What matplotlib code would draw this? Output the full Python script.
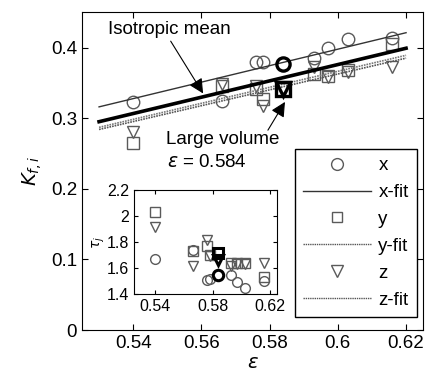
import matplotlib
matplotlib.use("Agg")
import matplotlib.pyplot as plt
from matplotlib.lines import Line2D

plt.rcParams['font.family'] = ['Liberation Sans', 'DejaVu Sans']
plt.rcParams['mathtext.fontset'] = 'dejavusans'

# porosity of the samples
eps = [0.540, 0.566, 0.576, 0.578, 0.593, 0.597, 0.603, 0.616]
# conductivity factors per direction
k_x = [0.323, 0.325, 0.380, 0.380, 0.385, 0.399, 0.412, 0.414]
k_y = [0.265, 0.345, 0.341, 0.327, 0.362, 0.360, 0.368, 0.405]
k_z = [0.280, 0.349, 0.345, 0.317, 0.373, 0.358, 0.366, 0.373]
# tortuosity per direction
tau_x = [1.67, 1.74, 1.51, 1.52, 1.55, 1.49, 1.45, 1.50]
tau_y = [2.03, 1.73, 1.77, 1.70, 1.64, 1.64, 1.64, 1.53]
tau_z = [1.92, 1.62, 1.82, 1.69, 1.62, 1.63, 1.63, 1.64]

# large volume sample
eps_large = 0.584
k_large = [0.376, 0.342, 0.341]
tau_large = [1.55, 1.715, 1.66]

# fit lines (end points)
fit_eps = [0.53, 0.62]
fit_x = [0.316, 0.421]
fit_y = [0.287, 0.389]
fit_z = [0.284, 0.385]
fit_iso = [0.295, 0.399]

grey = '#5a5a5a'
fs = 13.5

fig = plt.figure(figsize=(4.28, 3.82), dpi=100)
ax = fig.add_axes([0.1916, 0.136, 0.797, 0.832])

mk = dict(linestyle='none', markerfacecolor='none', markeredgecolor=grey,
          markersize=9, markeredgewidth=1.0)
ax.plot(eps, k_x, marker='o', **mk)
ax.plot(eps, k_y, marker='s', **mk)
ax.plot(eps, k_z, marker='v', **mk)

ax.plot(fit_eps, fit_x, color='#333333', lw=1.0)
ax.plot(fit_eps, fit_y, color='#777777', lw=1.2, linestyle=(0, (1, 0.6)))
ax.plot(fit_eps, fit_z, color='#555555', lw=1.2, linestyle=(0, (1, 0.6)))
ax.plot(fit_eps, fit_iso, color='black', lw=2.6)

big = dict(linestyle='none', markerfacecolor='none', markeredgecolor='black',
           markersize=9.5, markeredgewidth=2.4)
ax.plot([eps_large], [k_large[0]], marker='o', **big)
ax.plot([eps_large], [k_large[1]], marker='s', **big)
ax.plot([eps_large], [k_large[2]], marker='v', **big)

ax.annotate('Isotropic mean', xy=(0.5605, 0.335), xytext=(0.5325, 0.425),
            fontsize=fs, ha='left', va='center',
            arrowprops=dict(arrowstyle='-|>', color='black', lw=0.8,
                            mutation_scale=22, shrinkA=0, shrinkB=0,
                            relpos=(0.5, 0.0)))
ax.annotate('', xy=(0.5845, 0.323), xytext=(0.5795, 0.283),
            arrowprops=dict(arrowstyle='-|>', color='black', lw=0.8,
                            mutation_scale=22, shrinkA=0, shrinkB=0))
ax.text(0.5495, 0.270, 'Large volume', fontsize=fs, ha='left', va='center')
ax.text(0.5500, 0.237, r'$\varepsilon$ = 0.584', fontsize=fs, ha='left', va='center')

ax.set_xlim(0.525, 0.625)
ax.set_ylim(0, 0.45)
ax.set_xticks([0.54, 0.56, 0.58, 0.6, 0.62])
ax.set_xticklabels(['0.54', '0.56', '0.58', '0.6', '0.62'])
ax.set_yticks([0, 0.1, 0.2, 0.3, 0.4])
ax.set_yticklabels(['0', '0.1', '0.2', '0.3', '0.4'])
ax.tick_params(direction='in', top=True, right=True, labelsize=fs, length=4)
ax.set_xlabel(r'$\varepsilon$', fontsize=14, labelpad=2)
ax.set_ylabel(r'$K_{f,i}$', fontsize=14, labelpad=5)

handles = [
    Line2D([], [], marker='o', linestyle='none', markerfacecolor='none',
           markeredgecolor=grey, markersize=8.5),
    Line2D([], [], color='#333333', lw=1.0),
    Line2D([], [], marker='s', linestyle='none', markerfacecolor='none',
           markeredgecolor=grey, markersize=7.5),
    Line2D([], [], color='#555555', lw=1.0, linestyle=(0, (1, 0.6))),
    Line2D([], [], marker='v', linestyle='none', markerfacecolor='none',
           markeredgecolor=grey, markersize=8.5),
    Line2D([], [], color='#555555', lw=1.0, linestyle=(0, (1, 0.6))),
]
leg = ax.legend(handles, ['x', 'x-fit', 'y', 'y-fit', 'z', 'z-fit'],
                loc='lower right', bbox_to_anchor=(0.982, 0.041),
                borderaxespad=0, fontsize=fs, handlelength=3.6,
                handletextpad=0.4, labelspacing=0.52, borderpad=0.45,
                fancybox=False, framealpha=1, edgecolor='black')
leg.get_frame().set_linewidth(1.0)

# inset: tortuosity
ins = fig.add_axes([0.313, 0.230, 0.334, 0.272])
mk2 = dict(linestyle='none', markerfacecolor='none', markeredgecolor=grey,
           markersize=7, markeredgewidth=1.0)
ins.plot(eps, tau_x, marker='o', **mk2)
ins.plot(eps, tau_y, marker='s', **mk2)
ins.plot(eps, tau_z, marker='v', **mk2)
big2 = dict(linestyle='none', markerfacecolor='none', markeredgecolor='black',
            markersize=7.5, markeredgewidth=2.2)
ins.plot([eps_large], [tau_large[0]], marker='o', **big2)
ins.plot([eps_large], [tau_large[1]], marker='s', **big2)
ins.plot([eps_large], [tau_large[2]], marker='v', **big2)
ins.set_xlim(0.525, 0.625)
ins.set_ylim(1.4, 2.2)
ins.set_xticks([0.54, 0.58, 0.62])
ins.set_xticklabels(['0.54', '0.58', '0.62'])
ins.set_yticks([1.4, 1.6, 1.8, 2.0, 2.2])
ins.set_yticklabels(['1.4', '1.6', '1.8', '2', '2.2'])
ins.tick_params(direction='in', top=True, right=True, labelsize=11.5, length=3)
ins.set_ylabel(r'$\tau_j$', fontsize=10, labelpad=0)

fig.savefig('out.png', dpi=100)
